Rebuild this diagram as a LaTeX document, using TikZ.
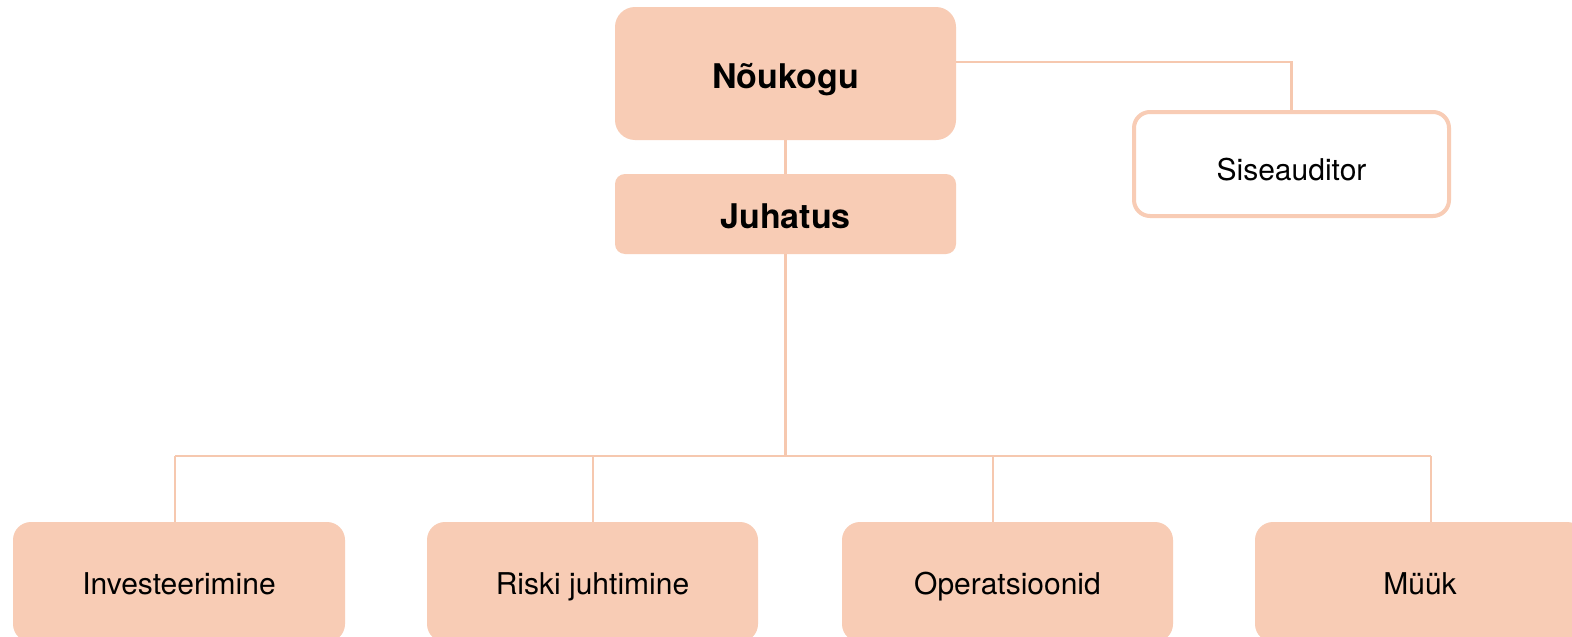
\documentclass[tikz,border=0pt]{standalone}
\usepackage{fontspec}
\setmainfont{TeX Gyre Heros}
\definecolor{peach}{HTML}{F8CCB5}
\definecolor{peachline}{HTML}{F6C8AF}
\begin{document}
\begin{tikzpicture}[x=1pt,y=-1pt,
  box/.style={rectangle, rounded corners=#1, fill=peach, draw=none, inner sep=0pt, align=center},
  box/.default=18pt,
  conn/.style={draw=peachline, line width=2.2pt},
  lvl/.style={font=\fontsize{30}{36}\selectfont, text height=24pt, text depth=0pt},
  head/.style={font=\fontsize{34}{40}\selectfont\bfseries, text height=29pt, text depth=0pt}]
\useasboundingbox (0,0) rectangle (1572,637);
\clip (0,0) rectangle (1572,637);
\fill[white] (0,0) rectangle (1572,637);
% top
\node[box=20pt, head, minimum width=341pt, minimum height=133pt] (n) at (785.5,73.5) {Nõukogu};
\node[box=10pt, head, minimum width=341pt, minimum height=80pt] (j) at (785.5,214) {Juhatus};
\node[rectangle, rounded corners=16pt, draw=peach, line width=4pt, fill=white, lvl, text height=32pt,
      minimum width=315pt, minimum height=104pt, inner sep=0pt] (s) at (1291.5,164) {Siseauditor};
% bottom
\node[box, lvl, minimum width=332pt, minimum height=120pt] (i) at (179,582) {Investeerimine};
\node[box, lvl, minimum width=331pt, minimum height=120pt] (r) at (592.5,582) {Riski juhtimine};
\node[box, lvl, minimum width=331pt, minimum height=120pt] (o) at (1007.5,582) {Operatsioonid};
\node[box, lvl, minimum width=330pt, minimum height=120pt] (m) at (1420,582) {Müük};
% coordinates for bus
\coordinate (bus) at (785.5,456);
\coordinate (b1) at (175,456);
\coordinate (b2) at (593,456);
\coordinate (b3) at (993,456);
\coordinate (b4) at (1431,456);
% connectors
\draw[conn] (n.south) -- (j.north);
\draw[conn] ([yshift=11.5pt]n.east) -| (s.north);
\draw[conn] (j.south) -- (bus);
\draw[conn] (b1) -- (b4);
\draw[conn] (b1) -- (b1 |- i.north);
\draw[conn] (b2) -- (b2 |- r.north);
\draw[conn] (b3) -- (b3 |- o.north);
\draw[conn] (b4) -- (b4 |- m.north);
\end{tikzpicture}
\end{document}
